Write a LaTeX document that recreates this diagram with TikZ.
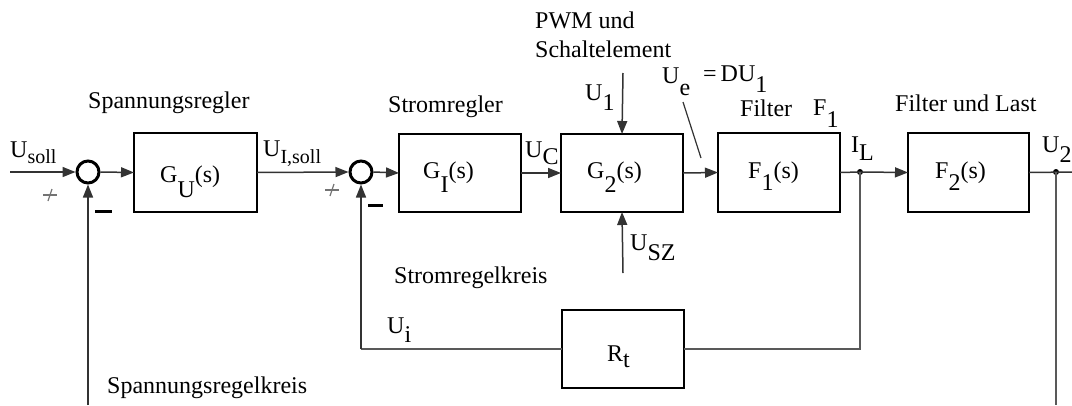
\documentclass[tikz,border=0pt]{standalone}
\usepackage{fontspec}
\setmainfont{Liberation Serif}
\usetikzlibrary{arrows.meta}
\newcommand\subd[2]{\raisebox{-#1pt}{#2}}
\newcommand\subsm[2]{\raisebox{-#1pt}{\fontsize{20}{24}\selectfont #2}}
\tikzset{
  blk/.style={draw=black, line width=2pt, inner sep=0pt, outer sep=0pt},
  sumnode/.style={circle, draw=black, line width=3pt, minimum size=22pt, inner sep=0pt},
  dotnode/.style={circle, fill=black, inner sep=0pt, minimum size=6pt},
  lbl/.style={anchor=base west, inner sep=0pt, font=\fontsize{24}{28}\selectfont},
  conn/.style={draw=black!80, line width=1.5pt},
  arr/.style={conn, -{Triangle[length=13pt,width=10pt]}},
  fb/.style={draw=black!65, line width=2pt},
  sign/.style={draw=black!55, line width=1.2pt},
  minus/.style={draw=black, line width=3pt}
}
\begin{document}
\begin{tikzpicture}[x=1pt,y=-1pt]
\useasboundingbox (0,0) rectangle (1072,405);
% blocks
\node[blk, minimum width=123pt, minimum height=79pt] (GU) at (195.5,172.5) {};
\node[blk, minimum width=122pt, minimum height=78pt] (GI) at (460,173) {};
\node[blk, minimum width=122pt, minimum height=78pt] (G2) at (622,173) {};
\node[blk, minimum width=122pt, minimum height=79pt] (F1) at (779,172.5) {};
\node[blk, minimum width=121pt, minimum height=79pt] (F2) at (968.5,172.5) {};
\node[blk, minimum width=122pt, minimum height=78pt] (Rt) at (623,349) {};
% summing points and junctions
\node[sumnode] (S1) at (88,172) {};
\node[sumnode] (S2) at (361,172) {};
\node[dotnode] (J1) at (860,172) {};
\node[dotnode] (J2) at (1056,172) {};
% free ends
\coordinate (in) at (10,172);
\coordinate (out) at (1072,172);
\coordinate (u1top) at (623,73);
\coordinate (uszbot) at (623,273);
\coordinate (fbR) at (860,349);
\coordinate (fbL) at (361,349);
\coordinate (fbUbot) at (88,405);
\coordinate (U2bot) at (1056,405);
\coordinate (ueA) at (683,102);
\coordinate (ueB) at (701,158);
% connectors
\draw[arr] (in) -- (S1.west);
\draw[arr] (S1.east) -- (GU.west);
\draw[arr] (GU.east) -- (S2.west);
\draw[arr] (S2.east) -- (GI.west);
\draw[arr] (GI.east) -- (G2.west);
\draw[arr] (u1top) -- (G2.north);
\draw[arr] (uszbot) -- (G2.south);
\draw[arr] (G2.east) -- (F1.west);
\draw[conn] (F1.east) -- (J1.center);
\draw[arr] (J1.center) -- (F2.west);
\draw[conn] (F2.east) -- (out);
\draw[fb] (J2.center) -- (U2bot);
\draw[fb] (J1.center) -- (fbR) -- (Rt.east);
\draw[fb] (Rt.west) -- (fbL);
\draw[arr] (fbL) -- (S2.south);
\draw[arr] (fbUbot) -- (S1.south);
\draw[draw=black!80, line width=1.2pt] (ueA) -- (ueB);
% signs
\draw[sign] (43,195) -- (57,195);
\draw[sign] (52,189) -- (48,201);
\draw[sign] (325,190) -- (339,190);
\draw[sign] (334,184) -- (330,196);
\draw[minus] (95,211) -- (112,211);
\draw[minus] (368,205) -- (383,205);
% labels
\node[lbl] (tSpR) at (88,108) {Spannungsregler};
\node[lbl] (tUsoll) at (10,157) {U\subsm{6}{soll}};
\node[lbl] (tGU) at (160,182) {G\subd{15}{U}(s)};
\node[lbl] (tUIsoll) at (263,156) {U\subsm{7}{I,soll}};
\node[lbl] (tStR) at (388,112) {Stromregler};
\node[lbl] (tPWM) at (535,28) {PWM und};
\node[lbl] (tSchalt) at (535,57) {Schaltelement};
\node[lbl] (tU1) at (585,100) {U\subd{10}{1}};
\node[lbl] (tUC) at (525,157) {U\subd{7}{C}};
\node[lbl] (tGI) at (423,178) {G\subd{14}{I}(s)};
\node[lbl] (tG2) at (587,178) {G\subd{14}{2}(s)};
\node[lbl] (tUe) at (662,83) {U\subd{12}{e}};
\node[lbl] (tDU) at (703,81) {=\,DU\subd{11}{1}};
\node[lbl] (tFilter) at (740,116) {Filter};
\node[lbl] (tF1l) at (813,115) {F\subd{12}{1}};
\node[lbl] (tIL) at (851,152) {I\subd{8}{L}};
\node[lbl] (tF1) at (748,178) {F\subd{12}{1}(s)};
\node[lbl] (tFuL) at (895,111) {Filter und Last};
\node[lbl] (tF2) at (935,178) {F\subd{12}{2}(s)};
\node[lbl] (tU2) at (1042,152) {U\subd{10}{2}};
\node[lbl] (tUSZ) at (630,250) {U\subd{10}{SZ}};
\node[lbl] (tStRk) at (394,283) {Stromregelkreis};
\node[lbl] (tUi) at (387,333) {U\subd{9}{i}};
\node[lbl] (tRt) at (607,361) {R\subd{6}{t}};
\node[lbl] (tSpRk) at (107,393) {Spannungsregelkreis};
\end{tikzpicture}
\end{document}
